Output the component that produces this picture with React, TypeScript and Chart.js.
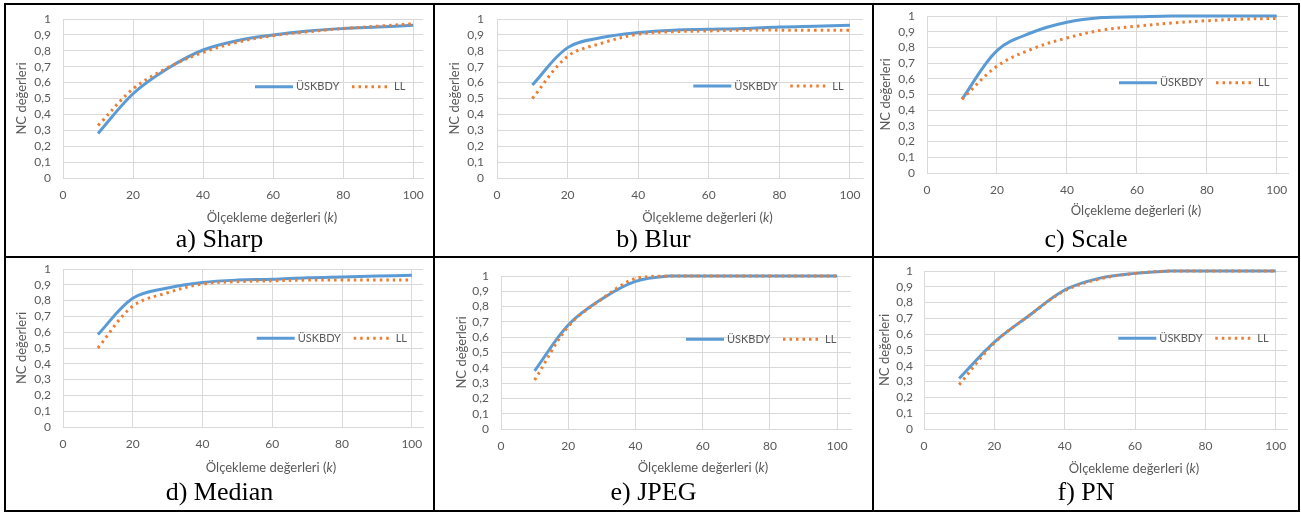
import React, { useEffect, useRef } from 'react';
import { Chart, registerables } from 'chart.js';

Chart.register(...registerables);

// ---- data ----
const K = [10, 20, 30, 40, 50, 60, 70, 80, 90, 100];
const X_TICKS = [0, 20, 40, 60, 80, 100];
const Y_TICKS = [0, 0.1, 0.2, 0.3, 0.4, 0.5, 0.6, 0.7, 0.8, 0.9, 1];
const Y_TICK_LABELS = ['0', '0,1', '0,2', '0,3', '0,4', '0,5', '0,6', '0,7', '0,8', '0,9', '1'];
const SERIES_NAMES = ['ÜSKBDY', 'LL'];
const Y_TITLE = 'NC değerleri';
const X_TITLE = 'Ölçekleme değerleri';
const X_TITLE_VAR = 'k';
const CAPTIONS = ['a) Sharp', 'b) Blur', 'c) Scale', 'd) Median', 'e) JPEG', 'f) PN'];

const SHARP_USKBDY = [0.28, 0.53, 0.69, 0.805, 0.865, 0.9, 0.925, 0.94, 0.95, 0.96];
const SHARP_LL = [0.33, 0.56, 0.695, 0.79, 0.855, 0.895, 0.92, 0.94, 0.955, 0.97];
const BLUR_USKBDY = [0.585, 0.82, 0.885, 0.915, 0.93, 0.935, 0.94, 0.95, 0.955, 0.96];
const BLUR_LL = [0.5, 0.765, 0.85, 0.905, 0.92, 0.925, 0.93, 0.93, 0.93, 0.93];
const SCALE_USKBDY = [0.47, 0.78, 0.895, 0.96, 0.99, 0.995, 1, 1, 1, 1];
const SCALE_LL = [0.47, 0.68, 0.79, 0.86, 0.91, 0.935, 0.955, 0.97, 0.98, 0.985];
const MEDIAN_USKBDY = [0.585, 0.815, 0.88, 0.915, 0.93, 0.935, 0.945, 0.95, 0.955, 0.96];
const MEDIAN_LL = [0.5, 0.765, 0.85, 0.905, 0.92, 0.925, 0.93, 0.93, 0.93, 0.93];
const JPEG_USKBDY = [0.38, 0.68, 0.85, 0.965, 1, 1, 1, 1, 1, 1];
const JPEG_LL = [0.32, 0.67, 0.85, 0.985, 1, 1, 1, 1, 1, 1];
const PN_USKBDY = [0.32, 0.55, 0.72, 0.88, 0.955, 0.985, 1, 1, 1, 1];
const PN_LL = [0.28, 0.545, 0.72, 0.875, 0.95, 0.985, 1, 1, 1, 1];

// ---- styles ----
const BLUE = '#5B9BD5';
const ORANGE = '#ED7D31';
const GRID = '#D9D9D9';
const TEXT = '#595959';
const DOT_DASH = [2.5, 4];
const TENSION = 0.35;

// ---- layout (page coordinates) ----
type PanelGeom = {
  caption: string; u: number[]; l: number[];
  cx: number; cy: number; w: number; h: number;
  padL: number; yW: number; top: number; right: number; bottom: number;
  xMax: number; yPad: number; legend: [number, number];
  xTitle: [number, number]; capTop: number;
};

const PANELS: PanelGeom[] = [
  { caption: CAPTIONS[0], u: SHARP_USKBDY, l: SHARP_LL, cx: 6, cy: 5, w: 427, h: 251,
    padL: 8, yW: 49, top: 14, right: 417, bottom: 173, xMax: 102.8, yPad: 12,
    legend: [255, 86.7], xTitle: [272, 217], capTop: 226 },
  { caption: CAPTIONS[1], u: BLUR_USKBDY, l: BLUR_LL, cx: 435, cy: 5, w: 437, h: 251,
    padL: 12, yW: 50, top: 14, right: 428, bottom: 173, xMax: 103.7, yPad: 13,
    legend: [693.3, 86], xTitle: [707.5, 217], capTop: 226 },
  { caption: CAPTIONS[2], u: SCALE_USKBDY, l: SCALE_LL, cx: 874, cy: 5, w: 424, h: 251,
    padL: 4, yW: 49, top: 11, right: 414, bottom: 168, xMax: 103.2, yPad: 12,
    legend: [1119, 82.7], xTitle: [1136, 210], capTop: 226 },
  { caption: CAPTIONS[3], u: MEDIAN_USKBDY, l: MEDIAN_LL, cx: 6, cy: 258, w: 427, h: 252,
    padL: 8, yW: 49, top: 11, right: 417, bottom: 169, xMax: 103.2, yPad: 12,
    legend: [256.7, 338.3], xTitle: [271, 466.7], capTop: 479 },
  { caption: CAPTIONS[4], u: JPEG_USKBDY, l: JPEG_LL, cx: 435, cy: 258, w: 437, h: 252,
    padL: 19, yW: 47, top: 18, right: 416, bottom: 171, xMax: 104.1, yPad: 12,
    legend: [686, 339.3], xTitle: [703, 466.7], capTop: 479 },
  { caption: CAPTIONS[5], u: PN_USKBDY, l: PN_LL, cx: 874, cy: 258, w: 424, h: 252,
    padL: 3, yW: 47, top: 13, right: 413, bottom: 171, xMax: 103.2, yPad: 11,
    legend: [1118.3, 338.3], xTitle: [1134, 468.3], capTop: 479 },
];

const inlineLegend = {
  id: 'inlineLegend',
  afterDatasetsDraw(chart: any, _args: any, opts: any) {
    const ctx = chart.ctx as CanvasRenderingContext2D;
    const x = opts.x, y = opts.y;
    ctx.save();
    ctx.lineWidth = 3;
    ctx.strokeStyle = BLUE;
    ctx.beginPath();
    ctx.moveTo(x, y);
    ctx.lineTo(x + 38, y);
    ctx.stroke();
    ctx.font = '11px Lato';
    ctx.fillStyle = TEXT;
    ctx.textBaseline = 'middle';
    ctx.textAlign = 'left';
    ctx.fillText(SERIES_NAMES[0], x + 41, y);
    ctx.strokeStyle = ORANGE;
    ctx.setLineDash(DOT_DASH);
    ctx.beginPath();
    ctx.moveTo(x + 97, y);
    ctx.lineTo(x + 134, y);
    ctx.stroke();
    ctx.setLineDash([]);
    ctx.fillText(SERIES_NAMES[1], x + 139, y);
    ctx.restore();
  },
};

function Panel({ p }: { p: PanelGeom }) {
  const ref = useRef<HTMLCanvasElement>(null);
  useEffect(() => {
    const xH = 30;
    const B = p.bottom;
    const chart = new Chart(ref.current as HTMLCanvasElement, {
      type: 'line',
      data: {
        datasets: [
          {
            label: SERIES_NAMES[1],
            data: K.map((x, i) => ({ x, y: p.l[i] })),
            borderColor: ORANGE,
            backgroundColor: ORANGE,
            borderWidth: 3,
            borderDash: DOT_DASH,
            pointRadius: 0,
            tension: TENSION,
            fill: false,
            order: 0,
            clip: false,
          } as any,
          {
            label: SERIES_NAMES[0],
            data: K.map((x, i) => ({ x, y: p.u[i] })),
            borderColor: BLUE,
            backgroundColor: BLUE,
            borderWidth: 3,
            pointRadius: 0,
            tension: TENSION,
            fill: false,
            order: 1,
            clip: false,
          } as any,
        ],
      },
      options: {
        responsive: false,
        animation: false,
        events: [],
        layout: {
          padding: { left: p.padL, top: p.top, right: p.w - p.right, bottom: p.h - B - xH },
        },
        plugins: {
          legend: { display: false },
          tooltip: { enabled: false },
          inlineLegend: { x: p.legend[0] - p.cx, y: p.legend[1] - p.cy },
        } as any,
        scales: {
          x: {
            type: 'linear',
            min: 0,
            max: p.xMax,
            afterBuildTicks: (s: any) => { s.ticks = X_TICKS.map((v) => ({ value: v })); },
            afterFit: (s: any) => { s.height = xH; s.paddingLeft = 0; s.paddingRight = 0; },
            grid: { color: GRID, lineWidth: 1, drawTicks: false },
            border: { color: GRID, width: 1 },
            ticks: {
              padding: 10, color: TEXT, font: { family: 'Lato', size: 12 },
              maxRotation: 0, autoSkip: false,
              callback: (v: any) => String(v),
            },
          },
          y: {
            type: 'linear',
            min: 0,
            max: 1,
            afterBuildTicks: (s: any) => { s.ticks = Y_TICKS.map((v) => ({ value: v })); },
            afterFit: (s: any) => { s.width = p.yW; s.paddingTop = 0; s.paddingBottom = 0; },
            grid: { color: GRID, lineWidth: 1, drawTicks: false },
            border: { color: GRID, width: 1 },
            ticks: {
              padding: p.yPad, color: TEXT, font: { family: 'Lato', size: 12 }, autoSkip: false,
              callback: (v: any) => Y_TICK_LABELS[Math.round(Number(v) * 10)],
            },
            title: {
              display: true, text: Y_TITLE, color: TEXT,
              font: { family: 'Lato', size: 13, lineHeight: 1.2 }, padding: 0,
            },
          },
        },
      },
      plugins: [inlineLegend],
    } as any);
    return () => chart.destroy();
  }, []);

  return (
    <>
      <canvas
        ref={ref}
        width={p.w}
        height={p.h}
        style={{ position: 'absolute', left: p.cx, top: p.cy, width: p.w, height: p.h }}
      />
      <div
        style={{
          position: 'absolute', left: p.xTitle[0], top: p.xTitle[1],
          transform: 'translate(-50%, -50%)', font: '13px Lato', color: TEXT,
          whiteSpace: 'nowrap', lineHeight: '16px',
        }}
      >
        {X_TITLE} (<i>{X_TITLE_VAR}</i>)
      </div>
      <div
        style={{
          position: 'absolute', left: p.cx, width: p.w, top: p.capTop, textAlign: 'center',
          fontFamily: '"Liberation Serif", "Times New Roman", serif', fontSize: 26,
          lineHeight: '26px', color: '#000', whiteSpace: 'nowrap',
        }}
      >
        {p.caption}
      </div>
    </>
  );
}

const BORDERS = {
  v: [4, 433, 872, 1298],
  h: [3, 256, 510],
};

export default function App() {
  return (
    <div style={{ position: 'absolute', left: 0, top: 0, width: 1301, height: 512, background: '#fff', overflow: 'hidden' }}>
      {PANELS.map((p, i) => <Panel key={i} p={p} />)}
      {BORDERS.v.map((x, i) => (
        <div key={'v' + i} style={{ position: 'absolute', left: x, top: 3, width: 2, height: 509, background: '#000' }} />
      ))}
      {BORDERS.h.map((y, i) => (
        <div key={'h' + i} style={{ position: 'absolute', left: 4, top: y, width: 1296, height: 2, background: '#000' }} />
      ))}
    </div>
  );
}
